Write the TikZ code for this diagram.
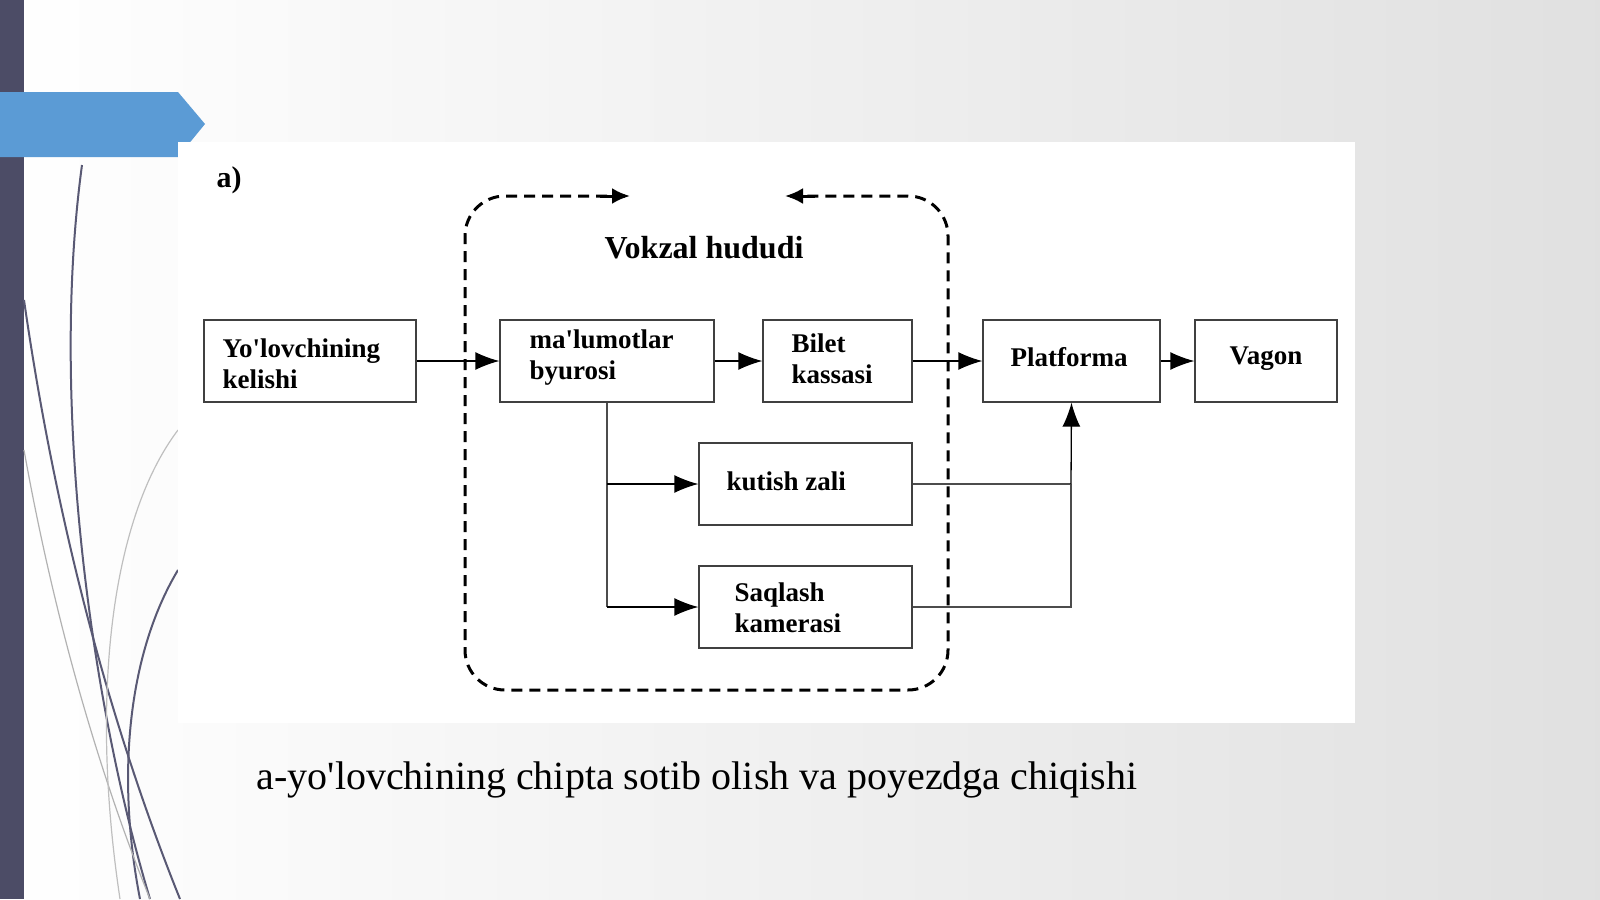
\documentclass[tikz,border=0pt]{standalone}
\usepackage{fontspec}
\setmainfont{Liberation Serif}
\usetikzlibrary{arrows.meta}
\newcommand{\qq}{\textquotesingle}
\begin{document}
\begin{tikzpicture}[x=1pt,y=-1pt,
 box/.style={draw=black!75,line width=1.3pt,fill=white,inner sep=0pt},
 btxt/.style={font=\fontsize{27}{31}\selectfont\bfseries,align=left,anchor=west},
 arr/.style={line width=1.3pt,-{Latex[length=24pt,width=18pt]}},
 ln/.style={line width=1.3pt,draw=black!70}]
\useasboundingbox (0,0) rectangle (1600,899);
\shade[left color=white,right color=black!12] (0,0) rectangle (1600,899);
\fill[black!75!blue!40!gray] (0,0) rectangle (24,899);
% decorative curves
\draw[line width=2pt,color=black!65!blue!30!gray] (82,165) .. controls (50,400) and (90,700) .. (150,899);
\draw[line width=2pt,color=black!65!blue!30!gray] (24,300) .. controls (60,550) and (120,750) .. (180,899);
\draw[line width=2pt,color=black!65!blue!30!gray] (178,570) .. controls (130,650) and (115,770) .. (140,899);
\draw[line width=1.2pt,color=black!30] (24,450) .. controls (60,650) and (110,800) .. (150,899);
\draw[line width=1.2pt,color=black!25] (178,430) .. controls (110,520) and (90,700) .. (120,899);
\fill[fill={rgb,255:red,91;green,155;blue,213}] (0,92) -- (178,92) -- (205,124) -- (178,157) -- (0,157) -- cycle;
\fill[white] (178,142) rectangle (1355,723);
\node[font=\fontsize{30}{32}\selectfont\bfseries] (a) at (229,180) {a)};
% dashed region
\draw[line width=3pt,dash pattern=on 11pt off 7pt,rounded corners=40pt] (625,196) -- (465,196) -- (465,690) -- (948,690) -- (948,196) -- (790,196);
\coordinate (t1) at (600,196); \coordinate (t2) at (630,196);
\coordinate (t3) at (815,196); \coordinate (t4) at (785,196);
\draw[-{Latex[length=18pt,width=16pt]},line width=3pt] (t1) -- (t2);
\draw[-{Latex[length=18pt,width=16pt]},line width=3pt] (t3) -- (t4);
\node[font=\fontsize{32}{34}\selectfont\bfseries] (title) at (704,248) {Vokzal hududi};
% boxes
\node[box,minimum width=212pt,minimum height=82pt] (yo) at (310,361) {};
\node[btxt] at (219,364) {Yo\qq lovchining\\kelishi};
\node[box,minimum width=214pt,minimum height=82pt] (ma) at (607,361) {};
\node[btxt] at (526,358) {ma\qq lumotlar\\byurosi};
\node[box,minimum width=149pt,minimum height=82pt] (bi) at (837.5,361) {};
\node[btxt] at (788,359) {Bilet\\kassasi};
\node[box,minimum width=177pt,minimum height=82pt] (pl) at (1071.5,361) {};
\node[btxt,anchor=center] at (1069,357) {Platforma};
\node[box,minimum width=142pt,minimum height=82pt] (va) at (1266,361) {};
\node[btxt,anchor=center] at (1266,359) {Vagon};
\node[box,minimum width=213pt,minimum height=82pt] (ku) at (805.5,484) {};
\node[btxt] at (723,481) {kutish zali};
\node[box,minimum width=213pt,minimum height=82pt] (sa) at (805.5,607) {};
\node[btxt] at (731,608) {Saqlash\\kamerasi};
% connectors
\draw[arr] (yo) -- (ma);
\draw[arr] (ma) -- (bi);
\draw[arr] (bi) -- (pl);
\draw[arr] (pl) -- (va);
\coordinate (j) at (607,484);
\draw[ln] (ma.south) -- (607,607);
\draw[arr] (j) -- (ku.west);
\draw[arr] (607,607) -- (sa.west);
\coordinate (k) at (1071,484);
\draw[ln] (ku.east) -- (k);
\draw[ln] (sa.east) -- (1071,607) -- (k);
\draw[arr] (k) -- (pl.south);
\node[font=\fontsize{40}{42}\selectfont] (cap) at (697,780) {a-yo\qq lovchining chipta sotib olish va poyezdga chiqishi};
\end{tikzpicture}
\end{document}
